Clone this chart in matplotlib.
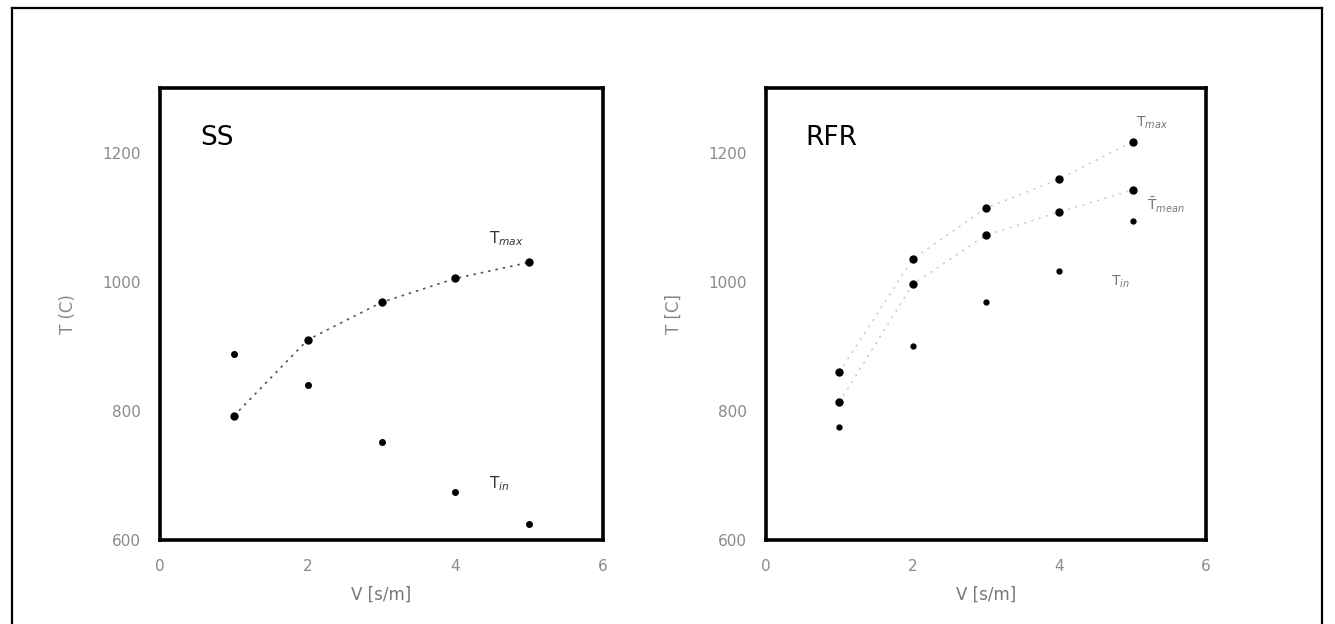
import matplotlib
matplotlib.use("Agg")
import matplotlib.pyplot as plt
from matplotlib.lines import Line2D

# Air velocity values (shared by both panels)
v = [1, 2, 3, 4, 5]

# Steady state (SS) panel
ss_tmax = [792, 910, 968, 1005, 1030]
ss_tin = [888, 840, 751, 675, 625]

# Reverse flow reactor (RFR) panel
rfr_tmax = [860, 1035, 1114, 1159, 1217]
rfr_tmean = [813, 996, 1072, 1108, 1142]
rfr_tin = [775, 901, 969, 1016, 1094]

x_ticks = [0, 2, 4, 6]
y_ticks = [600, 800, 1000, 1200]

fig = plt.figure(figsize=(13.35, 6.24), dpi=100)
fig.patch.set_facecolor("white")

# thin outer frame (open at the bottom)
for xs, ys in [([12 / 1335, 12 / 1335], [0.0, 1 - 8 / 624]),
               ([12 / 1335, 1322 / 1335], [1 - 8 / 624, 1 - 8 / 624]),
               ([1322 / 1335, 1322 / 1335], [1 - 8 / 624, 0.0])]:
    fig.add_artist(Line2D(xs, ys, transform=fig.transFigure, color="black", lw=1.6))

tick_color = "#8a8a8a"


def style_axes(ax, ylabel, title):
    ax.set_xlim(0, 6)
    ax.set_ylim(600, 1300)
    ax.set_xticks(x_ticks)
    ax.set_yticks(y_ticks)
    ax.tick_params(length=0, labelsize=11, colors=tick_color, pad=14)
    for s in ax.spines.values():
        s.set_linewidth(2.6)
        s.set_color("black")
    ax.set_xlabel("V [s/m]", fontsize=12, color="#777777", labelpad=8)
    ax.set_ylabel(ylabel, fontsize=12, color="#888888", labelpad=18)
    ax.text(0.09, 0.89, title, transform=ax.transAxes, fontsize=19,
            color="black", ha="left", va="center")


ax1 = fig.add_axes([160 / 1335, 84 / 624, 443 / 1335, 452 / 624])
ax1.plot(v, ss_tmax, linestyle=(0, (1.5, 3)), color="#555555", lw=1.2,
         marker="o", markersize=5, markerfacecolor="black",
         markeredgecolor="black")
ax1.plot(v, ss_tin, linestyle="none", marker="o", markersize=4,
         markerfacecolor="black", markeredgecolor="black")
ax1.text(4.45, 1060, r"T$_{max}$", fontsize=11, color="#333333")
ax1.text(4.45, 680, r"T$_{in}$", fontsize=11, color="#333333")
style_axes(ax1, "T (C)", "SS")

ax2 = fig.add_axes([766 / 1335, 84 / 624, 440 / 1335, 452 / 624])
ax2.plot(v, rfr_tmax, linestyle=(0, (1.5, 4)), color="#c4c4c4", lw=1.0,
         marker="o", markersize=5, markerfacecolor="black",
         markeredgecolor="black")
ax2.plot(v, rfr_tmean, linestyle=(0, (1.5, 4)), color="#c4c4c4", lw=1.0,
         marker="o", markersize=5, markerfacecolor="black",
         markeredgecolor="black")
ax2.plot(v, rfr_tin, linestyle="none", marker="o", markersize=3.5,
         markerfacecolor="black", markeredgecolor="black")
ax2.text(5.05, 1240, r"T$_{max}$", fontsize=10, color="#777777")
ax2.text(5.2, 1118, r"$\bar{\mathrm{T}}_{mean}$", fontsize=10,
         color="#777777", va="center")
ax2.text(4.7, 1000, r"T$_{in}$", fontsize=10, color="#777777", va="center")
style_axes(ax2, "T [C]", "RFR")

fig.savefig("out.png", dpi=100, facecolor="white")
